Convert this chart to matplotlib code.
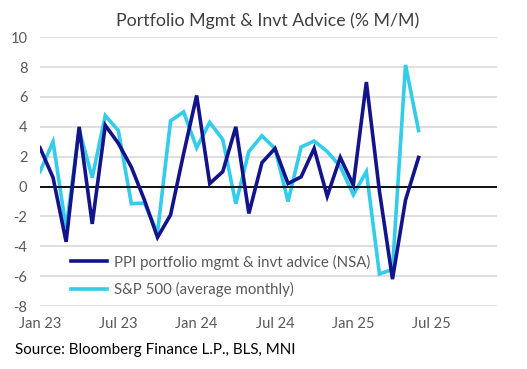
import matplotlib
matplotlib.use('Agg')
from matplotlib import pyplot as plt
import numpy as np

# monthly, Jan 23 .. Jun 25
ppi = [2.6, 0.6, -3.7, 4.0, -2.5, 4.1, 2.9, 1.3, -0.9, -3.4,
       -1.9, 2.2, 6.1, 0.2, 1.0, 4.0, -1.8, 1.6, 2.55, 0.2,
       0.65, 2.55, -0.65, 1.95, 0.1, 7.0, -0.3, -6.2, -0.9, 1.95]
spx = [1.0, 3.0, -2.8, 3.8, 0.6, 4.75, 3.75, -1.15, -1.1, -3.1,
       4.4, 5.0, 2.6, 4.3, 3.15, -1.15, 2.35, 3.4, 2.55, -1.0,
       2.65, 3.05, 2.35, 1.35, -0.55, 1.0, -5.85, -5.55, 8.15, 3.75]
tick_pos = [0, 6, 12, 18, 24, 30]
tick_labels = ['Jan 23', 'Jul 23', 'Jan 24', 'Jul 24', 'Jan 25', 'Jul 25']
y_ticks = list(range(-8, 11, 2))

plt.rcParams['font.family'] = ['Lato', 'DejaVu Sans']

fig = plt.figure(figsize=(5.27, 3.69), dpi=100)
ax = fig.add_axes([0.0759, 0.1707, 0.867, 0.7283])

x = np.arange(len(ppi))
ax.plot(x, ppi, color='#13138A', linewidth=2.6, label='PPI portfolio mgmt & invt advice (NSA)',
        solid_joinstyle='miter', zorder=3)
ax.plot(x, spx, color='#33CCEB', linewidth=2.6, label='S&P 500 (average monthly)',
        solid_joinstyle='miter', zorder=2)

ax.axhline(0, color='black', linewidth=1.3, zorder=2.5)
ax.set_xlim(0, 35)
ax.set_ylim(-8, 10)
ax.set_yticks(y_ticks)
ax.set_yticklabels([str(v) for v in y_ticks])
ax.set_xticks(tick_pos)
ax.set_xticklabels(tick_labels)
ax.grid(axis='y', color='#D9D9D9', linewidth=1.2, zorder=0)
ax.set_axisbelow(True)
for s in ax.spines.values():
    s.set_visible(False)
ax.tick_params(axis='both', length=0, labelsize=10.5, colors='#595959')
ax.tick_params(axis='y', pad=9)
ax.tick_params(axis='x', pad=8)

leg = ax.legend(loc='lower left', bbox_to_anchor=(0.055, 0.012), frameon=False,
                fontsize=10.8, handlelength=2.4, handletextpad=0.45, labelspacing=0.8,
                borderaxespad=0)
for t in leg.get_texts():
    t.set_color('#595959')

fig.text(0.507, 0.945, 'Portfolio Mgmt & Invt Advice (% M/M)', ha='center', va='center',
         fontsize=12.8, color='#404040')
fig.text(0.028, 0.052, 'Source: Bloomberg Finance L.P., BLS, MNI', ha='left', va='center',
         fontsize=10.9, color='black')

fig.savefig('out.png', dpi=100)
